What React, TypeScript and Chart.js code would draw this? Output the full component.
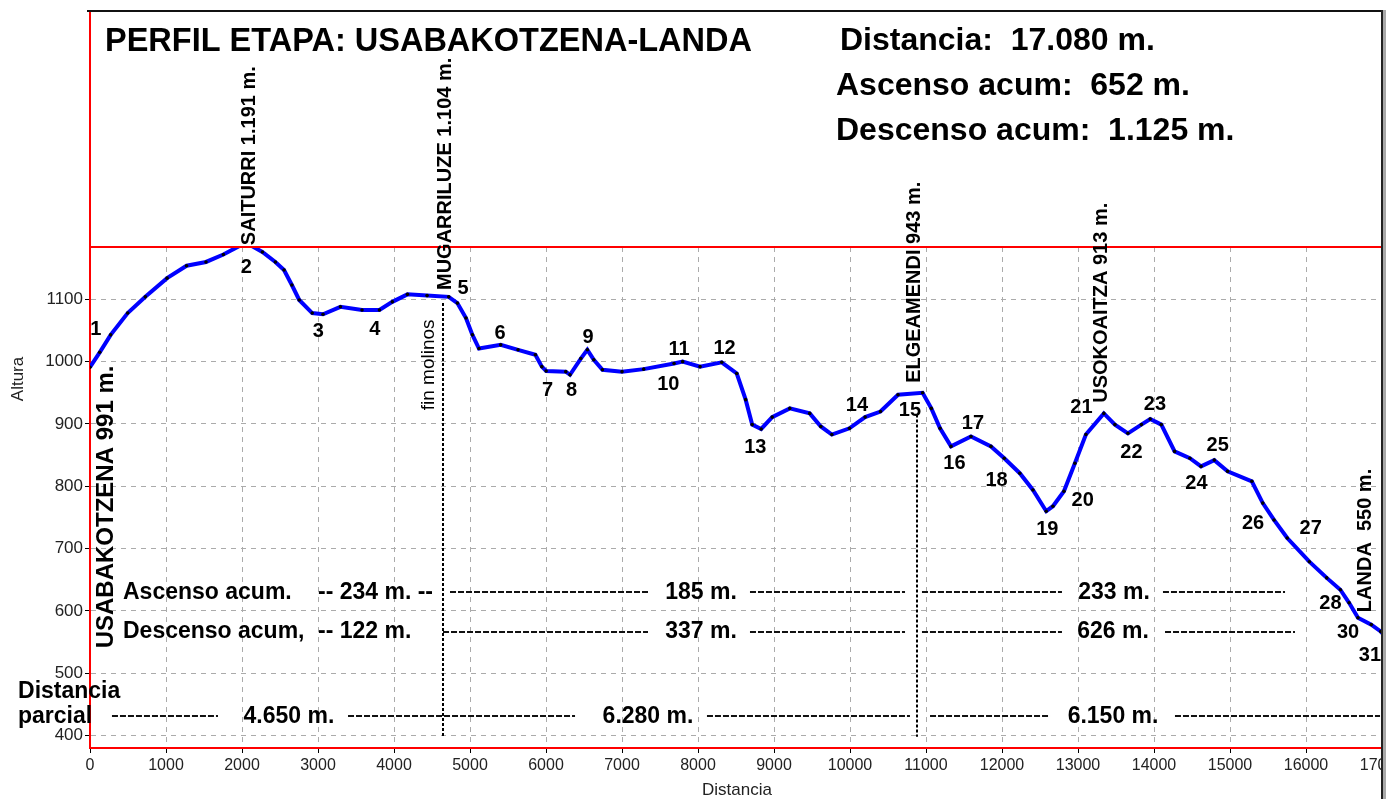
import React, { useEffect, useRef } from "react";
import { Chart, registerables } from "chart.js";

Chart.register(...registerables);

const FONT = '"Liberation Sans", Arial, sans-serif';

// ---- Profile (distance in m, altitude in m) ----
const distances = [
  0, 128, 272, 496, 728, 1014, 1271, 1526, 1755, 2051, 2268, 2439, 2553, 2656, 2753, 2924, 3066, 3295, 3579, 3808,
  3978, 4177, 4435, 4720, 4834, 4947, 5032, 5118, 5404, 5632, 5860, 5945, 6002, 6260, 6316, 6458, 6544, 6629, 6743,
  7000, 7285, 7685, 7798, 8027, 8312, 8510, 8627, 8713, 8831, 8976, 9208, 9470, 9616, 9761, 9993, 10199, 10401, 10632,
  10955, 11070, 11185, 11329, 11592, 11855, 12030, 12234, 12407, 12582, 12670, 12815, 12959, 13104, 13340, 13486,
  13657, 13834, 13950, 14096, 14271, 14472, 14619, 14793, 14968, 15287, 15431, 15579, 15753, 16044, 16273, 16452,
  16567, 16684, 16859, 16983, 17080,
];
const altitudes = [
  991, 1015, 1043, 1078, 1104, 1134, 1154, 1160, 1172, 1191, 1176, 1160, 1147, 1123, 1099, 1078, 1076, 1088, 1083, 1083,
  1096, 1108, 1106, 1104, 1094, 1070, 1043, 1021, 1027, 1019, 1011, 992, 985, 984, 979, 1005, 1019, 1003, 987,
  984, 988, 997, 1000, 992, 999, 981, 939, 899, 892, 911, 925, 917, 896, 883, 893, 911, 920, 947,
  950, 925, 893, 864, 880, 864, 845, 821, 794, 760, 768, 792, 837, 883, 917, 899,
  885, 899, 908, 899, 856, 845, 832, 842, 824, 808, 773, 746, 717, 679, 653, 634,
  613, 589, 578, 567, 555,
];

// ---- Axes ----
const xTicks = [0, 1000, 2000, 3000, 4000, 5000, 6000, 7000, 8000, 9000, 10000, 11000, 12000, 13000, 14000, 15000, 16000, 17000];
const yTicks = [400, 500, 600, 700, 800, 900, 1000, 1100];
const xMin = 0;
const xMax = 17000;
const yMin = 380;
const yMax = 1184;

// ---- Waypoint numbers ----
const wpNames = ["1", "2", "3", "4", "5", "6", "7", "8", "9", "10", "11", "12", "13", "14", "15", "16", "17", "18", "19", "20", "21", "22", "23", "24", "25", "26", "27", "28", "30", "31"];
const wpDist = [76, 2057, 3004, 3746, 4908, 5395, 6022, 6337, 6553, 7609, 7750, 8350, 8754, 10092, 10789, 11374, 11618, 11928, 12596, 13062, 13045, 13703, 14012, 14559, 14838, 15303, 16061, 16322, 16553, 16842];
const wpAlt = [1051, 1151, 1048, 1051, 1118, 1045, 954, 954, 1038, 964, 1019, 1021, 863, 929, 921, 836, 900, 810, 730, 778, 927, 855, 932, 805, 866, 741, 733, 612, 565, 529];

// ---- Vertical place names (text runs upward from base) ----
const placeNames = ["SAITURRI 1.191 m.", "MUGARRILUZE 1.104 m.", "fin molinos", "ELGEAMENDI 943 m.", "USOKOAITZA 913 m.", "LANDA  550 m.", "USABAKOTZENA 991 m."];
const placeDist = [2092, 4671, 4461, 10855, 13303, 16789, 211];
const placeBaseAlt = [1187, 1115, 922, 966, 934, 598, 540];
const placeBold = [true, true, false, true, true, true, true];
const placeSize = [20, 20, 19, 20, 20, 20, 24];

// ---- Section markers ----
const markerDist = [4650, 10880];
const markerTopAlt = [1094, 915];
const markerBottomAlt = 398;

// ---- Summary rows ----
const rowText = [
  "Ascenso acum.", "-- 234 m. --", "185 m.", "233 m.",
  "Descenso acum,", "-- 122 m.", "337 m.", "626 m.",
  "Distancia", "parcial", "4.650 m.", "6.280 m.", "6.150 m.",
];
const rowTextDist = [434, 3000, 8039, 13474, 434, 3000, 8039, 13461, -947, -947, 2618, 7342, 13461];
const rowTextAlt = [630, 630, 630, 630, 566, 566, 566, 566, 470, 431, 431, 431, 431];
const rowTextAlign = ["left", "left", "center", "center", "left", "left", "center", "center", "left", "left", "center", "center", "center"];

const dashStart = [4737, 8684, 10947, 14118, 4645, 8684, 10947, 14145, 289, 3395, 8118, 11053, 14276];
const dashEnd = [7342, 10724, 12789, 15724, 7342, 10724, 12789, 15855, 1684, 6382, 10789, 12632, 16974];
const dashAlt = [630, 630, 630, 630, 566, 566, 566, 566, 431, 431, 431, 431, 431];

// ---- Header ----
const titleText = "PERFIL ETAPA: USABAKOTZENA-LANDA";
const statText = ["Distancia:  17.080 m.", "Ascenso acum:  652 m.", "Descenso acum:  1.125 m."];

const overlay = {
  id: "overlay",
  beforeDatasetsDraw(chart: any) {
    const { ctx } = chart;
    const x = chart.scales.x;
    const y = chart.scales.y;
    ctx.save();
    ctx.strokeStyle = "#000";
    ctx.lineWidth = 2;
    ctx.setLineDash([3, 2]);
    markerDist.forEach((d, i) => {
      const px = Math.round(x.getPixelForValue(d));
      ctx.beginPath();
      ctx.moveTo(px, y.getPixelForValue(markerTopAlt[i]));
      ctx.lineTo(px, y.getPixelForValue(markerBottomAlt));
      ctx.stroke();
    });
    ctx.restore();
  },
  afterDraw(chart: any) {
    const { ctx, chartArea: a, width, height } = chart;
    const x = chart.scales.x;
    const y = chart.scales.y;
    ctx.save();

    // summary dashed rows
    ctx.strokeStyle = "#111";
    ctx.lineWidth = 2;
    ctx.setLineDash([6, 2]);
    dashStart.forEach((d, i) => {
      const py = Math.round(y.getPixelForValue(dashAlt[i]));
      ctx.beginPath();
      ctx.moveTo(x.getPixelForValue(d), py);
      ctx.lineTo(x.getPixelForValue(dashEnd[i]), py);
      ctx.stroke();
    });
    ctx.setLineDash([]);

    // frame
    ctx.fillStyle = "#ff0000";
    ctx.fillRect(a.left - 1, 11, 2, a.top - 11);
    ctx.fillRect(a.left, a.top - 1, a.right - a.left, 2);
    ctx.fillStyle = "#fff";
    ctx.fillRect(a.right, 0, width - a.right, height);
    ctx.fillStyle = "#111";
    ctx.fillRect(a.left - 3, 10, a.right - a.left + 3, 2);
    ctx.fillStyle = "#222";
    ctx.fillRect(a.right - 1, 10, 2, height - 10);
    ctx.fillStyle = "#a9a9a9";
    ctx.fillRect(a.right + 1, 10, 3, height - 10);

    ctx.fillStyle = "#000";
    // header
    ctx.textBaseline = "alphabetic";
    ctx.textAlign = "left";
    ctx.font = `bold 32.5px ${FONT}`;
    ctx.fillText(titleText, 105, 51);
    ctx.font = `bold 32px ${FONT}`;
    ctx.fillText(statText[0], 840, 50);
    ctx.fillText(statText[1], 836, 95);
    ctx.fillText(statText[2], 836, 140);

    // vertical names
    placeNames.forEach((s, i) => {
      ctx.save();
      ctx.translate(x.getPixelForValue(placeDist[i]), y.getPixelForValue(placeBaseAlt[i]));
      ctx.rotate(-Math.PI / 2);
      ctx.textAlign = "left";
      ctx.textBaseline = "middle";
      ctx.font = `${placeBold[i] ? "bold " : ""}${placeSize[i]}px ${FONT}`;
      ctx.fillText(s, 0, 0);
      ctx.restore();
    });

    // waypoint numbers
    ctx.font = `bold 20px ${FONT}`;
    ctx.textAlign = "center";
    ctx.textBaseline = "middle";
    wpNames.forEach((s, i) => {
      ctx.fillText(s, x.getPixelForValue(wpDist[i]), y.getPixelForValue(wpAlt[i]));
    });

    // summary texts
    ctx.font = `bold 23px ${FONT}`;
    rowText.forEach((s, i) => {
      ctx.textAlign = rowTextAlign[i] as CanvasTextAlign;
      ctx.textBaseline = "middle";
      ctx.fillText(s, x.getPixelForValue(rowTextDist[i]), y.getPixelForValue(rowTextAlt[i]));
    });

    // axis titles
    ctx.font = `17px ${FONT}`;
    ctx.fillStyle = "#222";
    ctx.textAlign = "center";
    ctx.textBaseline = "middle";
    ctx.fillText("Distancia", (a.left + a.right) / 2 + 1, 790);
    ctx.save();
    ctx.translate(18, 379);
    ctx.rotate(-Math.PI / 2);
    ctx.fillText("Altura", 0, 0);
    ctx.restore();

    ctx.restore();
  },
};

export default function App() {
  const ref = useRef<HTMLCanvasElement>(null);
  useEffect(() => {
    document.body.style.margin = "0";
    const chart = new Chart(ref.current as HTMLCanvasElement, {
      type: "line",
      data: {
        datasets: [
          {
            data: distances.map((d, i) => ({ x: d, y: altitudes[i] })),
            borderColor: "#0000ff",
            borderWidth: 4,
            pointRadius: 1.8,
            pointBackgroundColor: "#000",
            pointBorderColor: "#000",
            pointBorderWidth: 0,
            tension: 0,
            fill: false,
          },
        ],
      },
      options: {
        responsive: true,
        maintainAspectRatio: false,
        animation: false,
        layout: { padding: { top: 247, right: 13, bottom: 0, left: 0 } },
        plugins: { legend: { display: false }, tooltip: { enabled: false } },
        scales: {
          x: {
            type: "linear",
            min: xMin,
            max: xMax,
            afterBuildTicks: (s: any) => {
              s.ticks = xTicks.map((v) => ({ value: v }));
            },
            afterFit: (s: any) => {
              s.height = 51;
              s.paddingLeft = 0;
              s.paddingRight = 0;
            },
            ticks: {
              autoSkip: false,
              maxRotation: 0,
              minRotation: 0,
              padding: 3,
              color: "#222",
              font: { family: FONT, size: 16 },
              callback: (v: any) => String(v),
            },
            grid: { color: "#ababab", lineWidth: 1, tickColor: "#000", tickLength: 5, tickBorderDash: [] },
            border: { display: true, color: "#ff0000", width: 2, dash: [5, 5] },
          },
          y: {
            type: "linear",
            min: yMin,
            max: yMax,
            afterBuildTicks: (s: any) => {
              s.ticks = yTicks.map((v) => ({ value: v }));
            },
            afterFit: (s: any) => {
              s.width = 90;
              s.paddingTop = 0;
              s.paddingBottom = 0;
            },
            ticks: {
              padding: 2,
              color: "#222",
              font: { family: FONT, size: 17 },
              callback: (v: any) => String(v),
            },
            grid: { color: "#ababab", lineWidth: 1, tickColor: "#000", tickLength: 5, tickBorderDash: [] },
            border: { display: true, color: "#ff0000", width: 2, dash: [5, 5] },
          },
        },
      },
      plugins: [overlay],
    } as any);
    return () => chart.destroy();
  }, []);
  return (
    <div style={{ position: "relative", width: 1395, height: 799, background: "#fff" }}>
      <canvas ref={ref} />
    </div>
  );
}
